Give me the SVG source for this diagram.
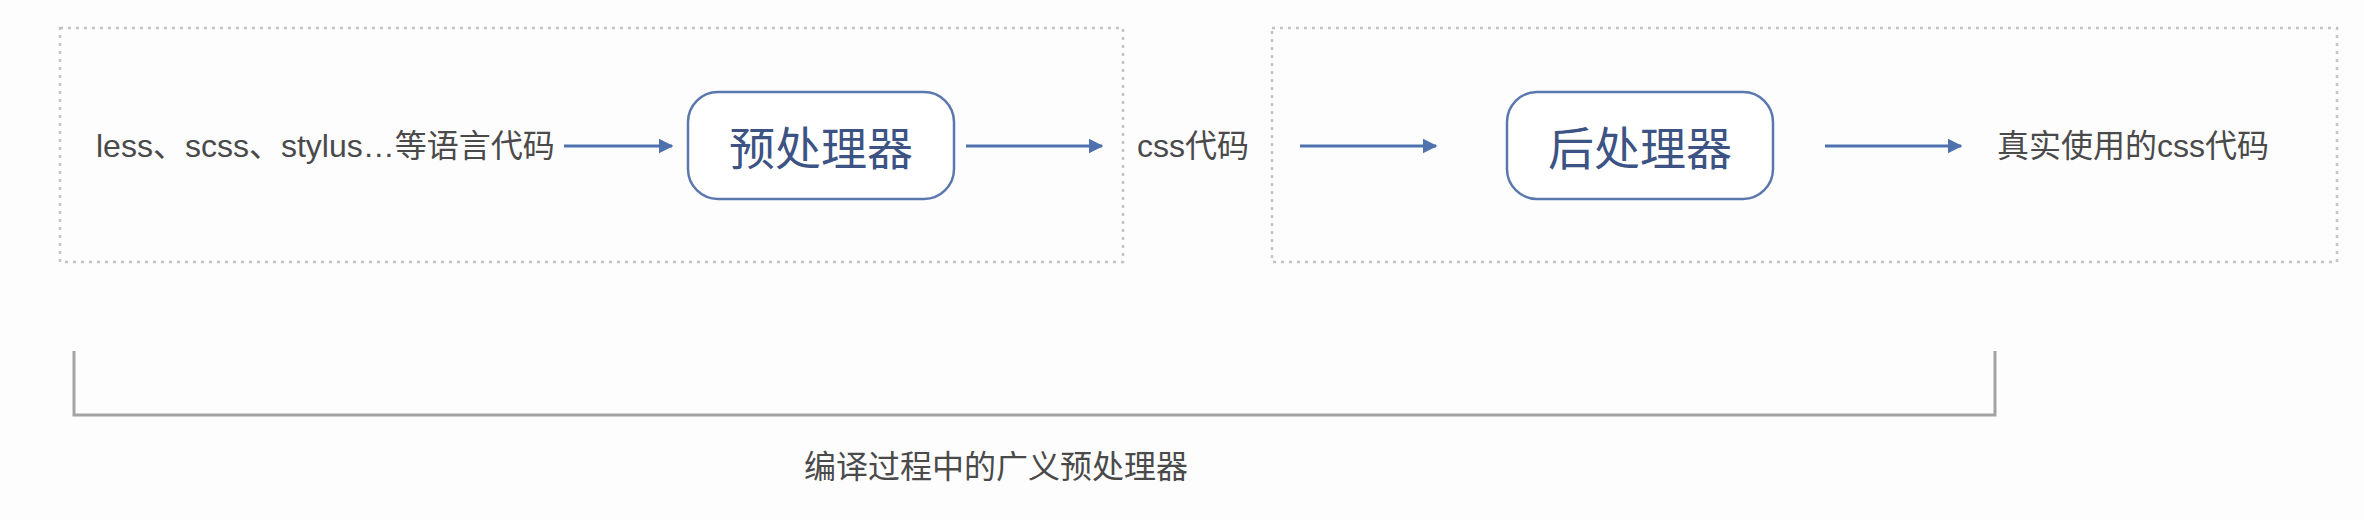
<svg xmlns="http://www.w3.org/2000/svg" width="2364" height="520" viewBox="0 0 2364 520">
<style>
.zone{fill:none;stroke:#c2c4c8;stroke-width:2.5;stroke-dasharray:3 5}
.node{fill:#ffffff;stroke:#5b78ae;stroke-width:2.5}
.ntext{font-family:"Noto Sans CJK SC","Liberation Sans",sans-serif;font-size:46px;fill:#3c5384;text-anchor:middle;dominant-baseline:central}
.label{font-family:"Liberation Sans","Noto Sans CJK SC",sans-serif;font-size:32px;fill:#4a4a4a;dominant-baseline:central}
.conn{fill:none;stroke:#4f72ae;stroke-width:3}
.brace{fill:none;stroke:#a3a3a3;stroke-width:3}
</style>
<defs>
<marker id="arrow" viewBox="0 0 10 10" refX="9" refY="5" markerWidth="5" markerHeight="5" orient="auto" markerUnits="strokeWidth">
<path d="M0,0 L10,5 L0,10 z" fill="#4f72ae"/>
</marker>
</defs>
<rect width="2364" height="520" fill="#fdfdfe"/>
<g id="zone-pre">
<rect class="zone" x="60" y="28" width="1063" height="234"/>
</g>
<g id="zone-post">
<rect class="zone" x="1272" y="28" width="1065" height="234"/>
</g>
<g id="source">
<text class="label" x="96" y="146">less、scss、stylus…等语言代码</text>
</g>
<g id="preprocessor">
<rect class="node" x="688" y="92" width="266" height="107" rx="30" ry="30"/>
<text class="ntext" x="821" y="145">预处理器</text>
</g>
<g id="css">
<text class="label" x="1137" y="146">css代码</text>
</g>
<g id="postprocessor">
<rect class="node" x="1507" y="92" width="266" height="107" rx="30" ry="30"/>
<text class="ntext" x="1640" y="145">后处理器</text>
</g>
<g id="result">
<text class="label" x="1997" y="146">真实使用的css代码</text>
</g>
<g id="connectors">
<line class="conn" x1="564" y1="146" x2="672" y2="146" marker-end="url(#arrow)"/>
<line class="conn" x1="966" y1="146" x2="1102" y2="146" marker-end="url(#arrow)"/>
<line class="conn" x1="1300" y1="146" x2="1436" y2="146" marker-end="url(#arrow)"/>
<line class="conn" x1="1825" y1="146" x2="1961" y2="146" marker-end="url(#arrow)"/>
</g>
<g id="bracket">
<polyline class="brace" points="74,351 74,415 1995,415 1995,351"/>
<text class="label" x="804" y="467">编译过程中的广义预处理器</text>
</g>
</svg>
